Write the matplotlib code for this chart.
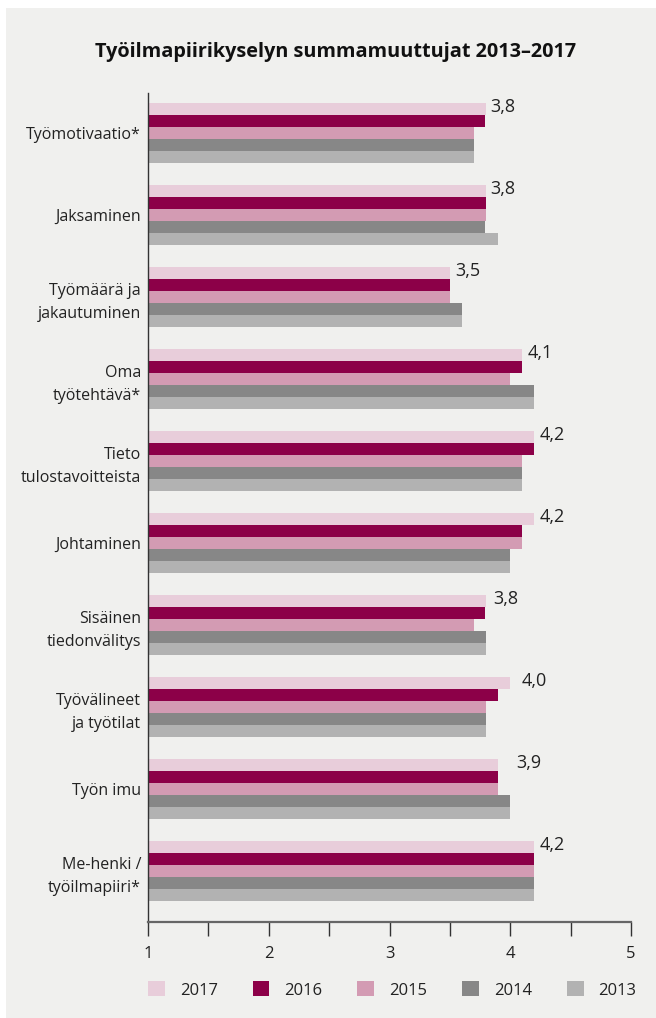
import matplotlib
matplotlib.use('Agg')
import matplotlib.pyplot as plt
import numpy as np

plt.rcParams['font.family'] = ['Open Sans', 'DejaVu Sans']

categories = ['Työmotivaatio*', 'Jaksaminen', 'Työmäärä ja\njakautuminen',
              'Oma\ntyötehtävä*', 'Tieto\ntulostavoitteista', 'Johtaminen',
              'Sisäinen\ntiedonvälitys', 'Työvälineet\nja työtilat', 'Työn imu',
              'Me-henki /\ntyöilmapiiri*']
years = ['2017', '2016', '2015', '2014', '2013']
v2017 = [3.8, 3.8, 3.5, 4.1, 4.2, 4.2, 3.8, 4.0, 3.9, 4.2]
v2016 = [3.79, 3.8, 3.5, 4.1, 4.2, 4.1, 3.79, 3.9, 3.9, 4.2]
v2015 = [3.7, 3.8, 3.5, 4.0, 4.1, 4.1, 3.7, 3.8, 3.9, 4.2]
v2014 = [3.7, 3.79, 3.6, 4.2, 4.1, 4.0, 3.8, 3.8, 4.0, 4.2]
v2013 = [3.7, 3.9, 3.6, 4.2, 4.1, 4.0, 3.8, 3.8, 4.0, 4.2]
labels2017 = ['3,8', '3,8', '3,5', '4,1', '4,2', '4,2', '3,8', '4,0', '3,9', '4,2']
# gap (in points) between the 2017 bar end and its value label
label_gap = [3, 3, 4, 4, 4, 4, 5, 8, 13, 4]
colors = {'2017': '#e8cdda', '2016': '#8c0048', '2015': '#d39bb3',
          '2014': '#878787', '2013': '#b2b2b2'}

series = [v2017, v2016, v2015, v2014, v2013]
base = 1
h = 0.146

fig = plt.figure(figsize=(6.56, 10.18), dpi=100)
fig.patch.set_facecolor('white')
bg = plt.Rectangle((6/656, 0.5/1018), 1, 1 - 8.5/1018, transform=fig.transFigure,
                   facecolor='#f0f0ee', edgecolor='none', zorder=-10)
fig.patches.append(bg)

ax = fig.add_axes([148/656, 1 - 922/1018, (631-148)/656, (922-93)/1018])
ax.set_facecolor('none')
y = np.arange(len(categories))
for j, (yr, vals) in enumerate(zip(years, series)):
    w = np.array(vals) - base
    ax.barh(y + (j-2)*h, w, left=base, height=h, color=colors[yr], label=yr, linewidth=0)

for i in range(len(categories)):
    ax.annotate(labels2017[i], (v2017[i], y[i] - 2*h - 0.03), xytext=(label_gap[i], 0),
                textcoords='offset points', fontsize=13, color='#222222',
                va='center', ha='left')

ax.set_xlim(1, 5)
ax.set_ylim(9.62, -0.488)
ax.set_yticks(y)
ax.set_yticklabels(categories, fontsize=11.5, color='#222222', linespacing=1.55)
ax.tick_params(axis='y', length=0, pad=5)
ax.set_xticks([1, 2, 3, 4, 5])
ax.set_xticklabels(['1', '2', '3', '4', '5'], fontsize=12, color='#222222')
ax.set_xticks([1.5, 2.5, 3.5, 4.5], minor=True)
ax.tick_params(axis='x', which='both', direction='out', length=10, width=1,
               color='#333333', pad=7)
for s in ['top', 'right']:
    ax.spines[s].set_visible(False)
ax.spines['left'].set_color('#333333')
ax.spines['left'].set_linewidth(1)
ax.spines['bottom'].set_color('#666666')
ax.spines['bottom'].set_linewidth(1.6)

fig.text(336/656, 1 - 52/1018, 'Työilmapiirikyselyn summamuuttujat 2013–2017',
         ha='center', va='center', fontsize=14.3, fontweight='bold', color='#111111')

handles, lbls = ax.get_legend_handles_labels()
fig.legend(handles, lbls, loc='center left', bbox_to_anchor=(133/656, 1 - 990/1018),
           ncol=5, frameon=False, fontsize=12, handlelength=1.0, handleheight=1.0,
           handletextpad=0.9, columnspacing=2.1, labelcolor='#222222')

fig.savefig('out.png', dpi=100, facecolor=fig.get_facecolor())
